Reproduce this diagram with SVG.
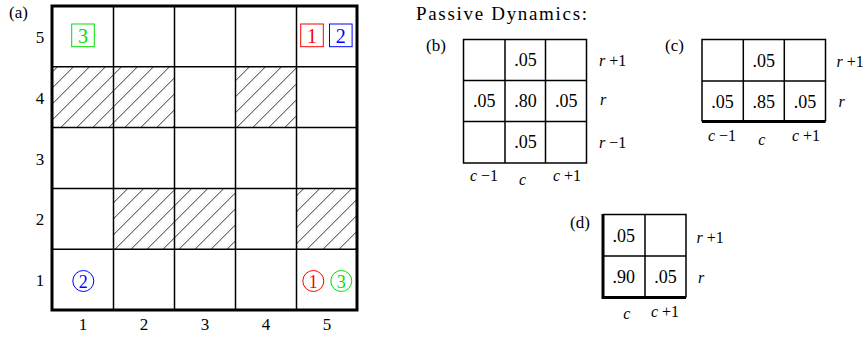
<svg xmlns="http://www.w3.org/2000/svg" width="868" height="337" viewBox="0 0 868 337" font-family="'Liberation Serif', 'Times New Roman', Times, serif">
<defs>
<pattern id="hatch" patternUnits="userSpaceOnUse" x="12.3" y="0" width="16" height="16">
<path d="M0,16 L16,0 M-2,2 L2,-2 M14,18 L18,14" stroke="#000" stroke-width="0.8" fill="none"/>
</pattern>
<style>
text{font-family:'Liberation Serif','Times New Roman',Times,serif}
.t{fill:#000}
.lab{font-size:17px}
.val{font-size:18px;text-anchor:middle}
.ax{font-size:16px}
.mid{text-anchor:middle}
.i{font-style:italic}
.ln{stroke:#000;stroke-width:1.5;fill:none}
.thick{stroke:#000;stroke-width:3;fill:none}
.hat{fill:url(#hatch);stroke:none}
.num{font-size:20px;text-anchor:middle}
.cnum{font-size:18px;text-anchor:middle}
</style>
</defs>
<rect width="868" height="337" fill="#fff"/>

<g id="grid-a">
<text class="t lab" x="9" y="18">(a)</text>
<rect class="hat" x="52" y="66.8" width="61.5" height="60.8"/>
<rect class="hat" x="113.5" y="66.8" width="61" height="60.8"/>
<rect class="hat" x="235.5" y="66.8" width="61" height="60.8"/>
<rect class="hat" x="113.5" y="188.4" width="61" height="60.8"/>
<rect class="hat" x="174.5" y="188.4" width="61" height="60.8"/>
<rect class="hat" x="296.5" y="188.4" width="60.5" height="60.8"/>
<path class="ln" d="M113.5,6V310M174.5,6V310M235.5,6V310M296.5,6V310M52,66.8H357M52,127.6H357M52,188.4H357M52,249.2H357"/>
<rect class="thick" x="52" y="6" width="305" height="304"/>
<g class="t lab mid">
<text x="40" y="43">5</text>
<text x="40" y="104">4</text>
<text x="40" y="165">3</text>
<text x="40" y="225">2</text>
<text x="40" y="286">1</text>
<text x="83" y="330">1</text>
<text x="144" y="330">2</text>
<text x="205" y="330">3</text>
<text x="266" y="330">4</text>
<text x="327" y="330">5</text>
</g>
</g>

<g id="start-3">
<rect x="71.7" y="24" width="22.6" height="22.7" fill="none" stroke="#00e000" stroke-width="1"/>
<text class="num" x="83" y="42.5" style="fill:#00e000">3</text>
</g>
<g id="start-1">
<rect x="300.7" y="24" width="22.6" height="22.7" fill="none" stroke="#ff0000" stroke-width="1"/>
<text class="num" x="312" y="42.5" style="fill:#ff0000">1</text>
</g>
<g id="start-2">
<rect x="329.5" y="24" width="22.6" height="22.7" fill="none" stroke="#0000ff" stroke-width="1"/>
<text class="num" x="340.8" y="42.5" style="fill:#0000ff">2</text>
</g>
<g id="goal-2">
<circle cx="83.3" cy="281" r="10.5" fill="none" stroke="#0000ff" stroke-width="1"/>
<text class="cnum" x="83.3" y="287.5" style="fill:#0000ff">2</text>
</g>
<g id="goal-1">
<circle cx="313.3" cy="281" r="10.5" fill="none" stroke="#ff0000" stroke-width="1"/>
<text class="cnum" x="313.3" y="287.5" style="fill:#ff0000">1</text>
</g>
<g id="goal-3">
<circle cx="341.3" cy="281" r="10.5" fill="none" stroke="#00e000" stroke-width="1"/>
<text class="cnum" x="341.3" y="287.5" style="fill:#00e000">3</text>
</g>

<text class="t" x="416" y="19.5" font-size="19" textLength="171" lengthAdjust="spacing">Passive Dynamics:</text>

<g id="grid-b">
<text class="t lab" x="426" y="51">(b)</text>
<path class="ln" d="M463.5,39.5H586.5V163H463.5ZM505,39.5V163M545.5,39.5V163M463.5,80.5H586.5M463.5,121.5H586.5"/>
<text class="t val" x="525.5" y="66">.05</text>
<text class="t val" x="484.3" y="107">.05</text>
<text class="t val" x="525.5" y="107">.80</text>
<text class="t val" x="566.2" y="107">.05</text>
<text class="t val" x="525.5" y="148">.05</text>
<g class="t ax">
<text x="599" y="66"><tspan class="i">r</tspan> +1</text>
<text x="600" y="105"><tspan class="i">r</tspan></text>
<text x="599" y="148"><tspan class="i">r</tspan> −1</text>
<text class="mid" x="484" y="180.5"><tspan class="i">c</tspan> −1</text>
<text class="mid i" x="522.5" y="185">c</text>
<text class="mid" x="567" y="180.5"><tspan class="i">c</tspan> +1</text>
</g>
</g>

<g id="grid-c">
<text class="t lab" x="665" y="51">(c)</text>
<path class="ln" d="M702,121.5V39.5H825.5V121.5M743.3,39.5V121.5M784.3,39.5V121.5M702,81H825.5"/>
<path class="thick" d="M702,121.5H825.5"/>
<text class="t val" x="763.8" y="66.5">.05</text>
<text class="t val" x="722.5" y="107.5">.05</text>
<text class="t val" x="763.8" y="107.5">.85</text>
<text class="t val" x="805" y="107.5">.05</text>
<g class="t ax">
<text x="836.5" y="67"><tspan class="i">r</tspan> +1</text>
<text x="838.5" y="106.5"><tspan class="i">r</tspan></text>
<text class="mid" x="722" y="140.7"><tspan class="i">c</tspan> −1</text>
<text class="mid i" x="761.7" y="144.5">c</text>
<text class="mid" x="806" y="140.7"><tspan class="i">c</tspan> +1</text>
</g>
</g>

<g id="grid-d">
<text class="t lab" x="570" y="228">(d)</text>
<path class="ln" d="M603,214.5H686V297.5M645,214.5V297.5M603,256H686"/>
<path class="thick" d="M603,214V297.5H686"/>
<text class="t val" x="623.8" y="241.5">.05</text>
<text class="t val" x="623.8" y="283">.90</text>
<text class="t val" x="665.5" y="283">.05</text>
<g class="t ax">
<text x="696.5" y="243.3"><tspan class="i">r</tspan> +1</text>
<text x="698" y="283"><tspan class="i">r</tspan></text>
<text class="mid i" x="626.7" y="319">c</text>
<text class="mid" x="665" y="316.7"><tspan class="i">c</tspan> +1</text>
</g>
</g>
</svg>
